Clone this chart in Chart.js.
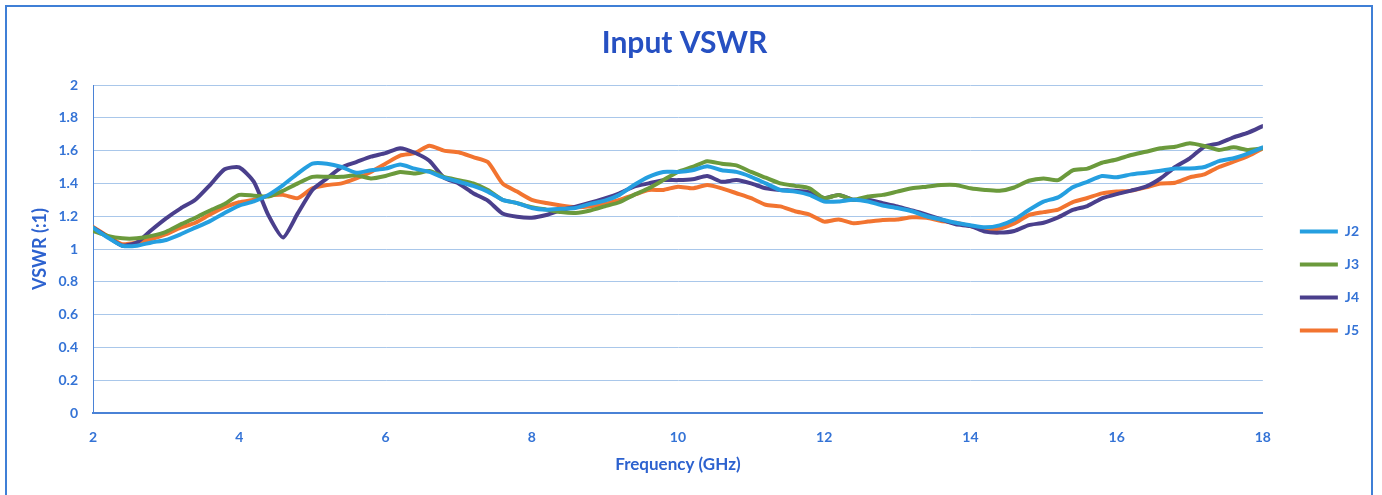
<!DOCTYPE html>
<html>
<head>
<meta charset="utf-8">
<title>Input VSWR</title>
<script src="https://cdn.jsdelivr.net/npm/chart.js@4/dist/chart.umd.min.js"></script>
<style>
html,body{margin:0;padding:0;background:#fff;}
.wrap{position:relative;width:1382px;height:495px;overflow:hidden;}
.frame{position:absolute;left:5px;top:5px;width:1368px;height:520px;border:2px solid #3f7fd6;box-sizing:border-box;pointer-events:none;}
canvas{position:absolute;left:0;top:0;}
</style>
</head>
<body>
<div class="wrap">
<canvas class="chart" width="1382" height="495"></canvas>
<div class="frame"></div>
</div>
<script>
// frequency points (GHz)
let freq = [2.0,2.2,2.4,2.6,2.8,3.0,3.2,3.4,3.6,3.8,4.0,4.2,4.4,4.6,4.8,5.0,5.2,5.4,5.6,5.8,
  6.0,6.2,6.4,6.6,6.8,7.0,7.2,7.4,7.6,7.8,8.0,8.2,8.4,8.6,8.8,9.0,9.2,9.4,9.6,9.8,
  10.0,10.2,10.4,10.6,10.8,11.0,11.2,11.4,11.6,11.8,12.0,12.2,12.4,12.6,12.8,13.0,13.2,13.4,13.6,13.8,
  14.0,14.2,14.4,14.6,14.8,15.0,15.2,15.4,15.6,15.8,16.0,16.2,16.4,16.6,16.8,17.0,17.2,17.4,17.6,17.8,18.0];

let j2 = [1.13,1.07,1.02,1.02,1.04,1.055,1.09,1.13,1.17,1.22,1.265,1.29,1.33,1.39,1.46,1.52,1.52,1.50,1.465,1.48,
  1.49,1.515,1.49,1.47,1.435,1.41,1.385,1.35,1.30,1.28,1.25,1.24,1.245,1.25,1.275,1.295,1.33,1.39,1.44,1.47,
  1.47,1.48,1.505,1.48,1.47,1.44,1.40,1.36,1.35,1.33,1.29,1.29,1.30,1.29,1.265,1.25,1.23,1.20,1.18,1.16,
  1.145,1.132,1.144,1.18,1.238,1.289,1.315,1.376,1.41,1.445,1.437,1.455,1.465,1.477,1.491,1.491,1.50,1.536,1.553,1.583,1.62];

let j3 = [1.11,1.08,1.065,1.065,1.08,1.105,1.15,1.19,1.235,1.275,1.33,1.325,1.32,1.355,1.40,1.44,1.44,1.44,1.45,1.43,
  1.445,1.47,1.46,1.475,1.44,1.42,1.40,1.36,1.30,1.28,1.255,1.24,1.225,1.22,1.235,1.26,1.285,1.33,1.37,1.42,
  1.47,1.50,1.535,1.52,1.51,1.47,1.435,1.40,1.385,1.37,1.31,1.33,1.30,1.32,1.33,1.35,1.37,1.38,1.39,1.39,
  1.37,1.36,1.355,1.375,1.416,1.43,1.42,1.48,1.49,1.526,1.546,1.573,1.593,1.614,1.624,1.645,1.628,1.604,1.62,1.604,1.614];

let j4 = [1.13,1.075,1.02,1.04,1.116,1.187,1.248,1.30,1.39,1.486,1.498,1.41,1.205,1.07,1.217,1.36,1.43,1.498,1.53,1.563,
  1.585,1.615,1.587,1.538,1.435,1.40,1.34,1.295,1.217,1.197,1.191,1.207,1.238,1.258,1.282,1.309,1.34,1.38,1.40,1.42,
  1.42,1.425,1.445,1.41,1.42,1.40,1.37,1.36,1.355,1.345,1.31,1.33,1.30,1.30,1.28,1.26,1.235,1.21,1.18,1.15,
  1.14,1.106,1.10,1.11,1.146,1.16,1.193,1.238,1.262,1.309,1.335,1.356,1.38,1.43,1.50,1.553,1.624,1.644,1.681,1.709,1.75];

let j5 = [1.135,1.08,1.03,1.04,1.06,1.09,1.13,1.16,1.21,1.255,1.285,1.30,1.325,1.33,1.31,1.37,1.39,1.40,1.43,1.47,
  1.52,1.57,1.585,1.63,1.60,1.59,1.56,1.53,1.40,1.35,1.30,1.28,1.265,1.255,1.26,1.275,1.30,1.33,1.36,1.36,
  1.38,1.37,1.39,1.37,1.34,1.31,1.27,1.26,1.23,1.21,1.167,1.18,1.157,1.167,1.177,1.18,1.193,1.19,1.17,1.16,
  1.14,1.118,1.124,1.156,1.207,1.225,1.24,1.286,1.311,1.339,1.35,1.356,1.376,1.40,1.404,1.437,1.455,1.50,1.532,1.567,1.614];

let seriesNames = ["J2","J3","J4","J5"];
let seriesColors = ["#259fe0","#6b9a3c","#4a3f8c","#f27430"];
let xTicks = [2,4,6,8,10,12,14,16,18];

let blue = "#3473d6";
let tickFont = {family:"Lato",size:14,weight:"bold"};

let makeSet = (name,values,color)=>{
    return {
        label:name,
        data:values.map((v,i)=>({x:freq[i],y:v})),
        borderColor:color,
        backgroundColor:color,
        borderWidth:4,
        borderCapStyle:"round",
        borderJoinStyle:"round",
        pointRadius:0,
        tension:0.2
    };
};

let canvas = document.querySelector(".chart");

let chart = new Chart(canvas,{
    type:"line",
    data:{
        datasets:[
            makeSet(seriesNames[0],j2,seriesColors[0]),
            makeSet(seriesNames[1],j3,seriesColors[1]),
            makeSet(seriesNames[2],j4,seriesColors[2]),
            makeSet(seriesNames[3],j5,seriesColors[3])
        ]
    },
    options:{
        responsive:false,
        animation:false,
        layout:{padding:{left:0,right:13,top:0,bottom:0}},
        plugins:{
            title:{
                display:true,
                text:"Input VSWR",
                color:"#2650c2",
                font:{family:"Lato",size:30,weight:"bold"},
                padding:{top:25,bottom:24}
            },
            legend:{
                position:"right",
                // blank legend title only pushes the entries down
                title:{display:true,text:" ",font:{size:10},padding:{top:55,bottom:0}},
                labels:{
                    usePointStyle:true,
                    pointStyle:"line",
                    pointStyleWidth:38,
                    boxHeight:13,
                    padding:19,
                    color:blue,
                    font:tickFont
                }
            },
            tooltip:{enabled:false}
        },
        scales:{
            x:{
                type:"linear",
                min:2,
                max:18,
                afterBuildTicks:(s)=>{ s.ticks = xTicks.map(v=>({value:v})); },
                ticks:{color:blue,font:tickFont,padding:16,maxRotation:0},
                grid:{display:false,drawTicks:false},
                border:{color:"#4a82d6",width:2},
                title:{display:true,text:"Frequency (GHz)",color:"#2d62cf",font:{family:"Lato",size:17,weight:"bold"},padding:{top:4,bottom:20}},
                afterFit:(s)=>{ s.height = 82; }
            },
            y:{
                min:0,
                max:2,
                ticks:{stepSize:0.2,color:blue,font:tickFont,padding:15,callback:(v)=>String(Math.round(v*10)/10)},
                grid:{color:"#a9c7ea",drawTicks:false},
                border:{color:"#4a82d6",width:1},
                title:{display:true,text:"VSWR (:1)",color:"#2d62cf",font:{family:"Lato",size:18,weight:"bold"},padding:{top:29,bottom:0}},
                afterFit:(s)=>{ s.width = 93; }
            },
            gap:{
                type:"linear",
                position:"right",
                grid:{display:false,drawTicks:false},
                ticks:{display:false},
                border:{display:false},
                afterFit:(s)=>{ s.width = 18; }
            }
        }
    }
});
</script>
</body>
</html>
